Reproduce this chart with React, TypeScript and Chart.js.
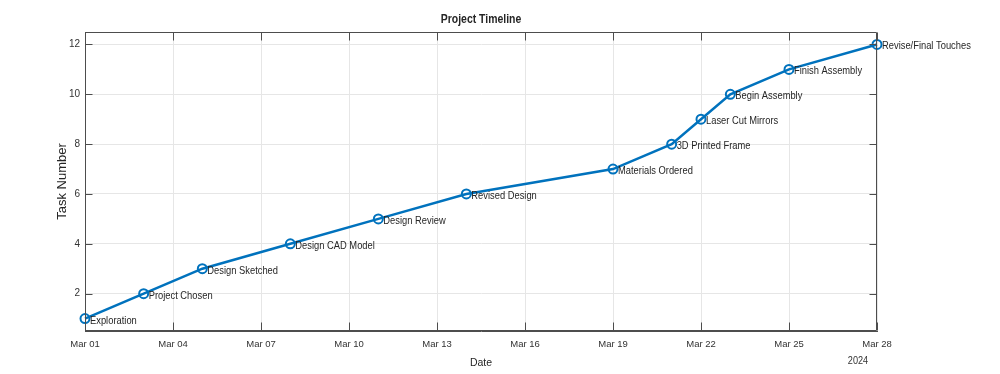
import React, { useEffect, useRef } from "react";
import { Chart, registerables } from "chart.js";

Chart.register(...registerables);

// Day of March 2024 for each task
const taskDays: number[] = [1, 3, 5, 8, 11, 14, 19, 21, 22, 23, 25, 28];
const taskNumbers: number[] = [1, 2, 3, 4, 5, 6, 7, 8, 9, 10, 11, 12];
const taskLabels: string[] = [
  "Exploration",
  "Project Chosen",
  "Design Sketched",
  "Design CAD Model",
  "Design Review",
  "Revised Design",
  "Materials Ordered",
  "3D Printed Frame",
  "Laser Cut Mirrors",
  "Begin Assembly",
  "Finish Assembly",
  "Revise/Final Touches",
];
const xTickDays: number[] = [1, 4, 7, 10, 13, 16, 19, 22, 25, 28];
const yTickValues: number[] = [2, 4, 6, 8, 10, 12];
const yearLabel = "2024";
const monthLabel = "Mar";

const FONT = "'Liberation Sans', Arial, Helvetica, sans-serif";
const AXIS_COLOR = "#4d4d4d";
const TEXT_COLOR = "#262626";
const TICK_COLOR = "#333333";
const LINE_COLOR = "#0072BD";

const pad2 = (n: number) => (n < 10 ? "0" + n : String(n));

function squashedText(ctx: CanvasRenderingContext2D, text: string, x: number, y: number, sx: number) {
  ctx.save();
  ctx.translate(x, y);
  ctx.scale(sx, 1);
  ctx.fillText(text, 0, 0);
  ctx.restore();
}

const decorPlugin = {
  id: "matlabDecor",
  afterDraw(chart: any) {
    const { ctx, chartArea } = chart;
    const xs = chart.scales.x;
    const ys = chart.scales.y;
    const L = Math.round(chartArea.left) + 0.5;
    const R = Math.round(chartArea.right) - 0.5;
    const T = Math.round(chartArea.top) + 0.5;
    const B = Math.round(chartArea.bottom) - 0.5;
    ctx.save();
    // box
    ctx.strokeStyle = AXIS_COLOR;
    ctx.lineWidth = 1;
    ctx.beginPath();
    ctx.moveTo(L, T);
    ctx.lineTo(R, T);
    ctx.lineTo(R, B);
    ctx.lineTo(L, B);
    ctx.closePath();
    ctx.stroke();
    // inward ticks
    ctx.beginPath();
    xTickDays.forEach((d) => {
      const px = Math.round(xs.getPixelForValue(d)) + 0.5;
      ctx.moveTo(px, B);
      ctx.lineTo(px, B - 8);
      ctx.moveTo(px, T);
      ctx.lineTo(px, T + 8);
    });
    yTickValues.forEach((v) => {
      const py = Math.round(ys.getPixelForValue(v)) + 0.5;
      ctx.moveTo(L, py);
      ctx.lineTo(L + 7, py);
      ctx.moveTo(R, py);
      ctx.lineTo(R - 7, py);
    });
    ctx.stroke();
    // point labels
    const meta = chart.getDatasetMeta(0);
    ctx.fillStyle = TEXT_COLOR;
    ctx.font = `11px ${FONT}`;
    ctx.textAlign = "left";
    ctx.textBaseline = "middle";
    meta.data.forEach((el: any, i: number) => {
      squashedText(ctx, taskLabels[i], el.x + 5, el.y + 2, 0.85);
    });
    // title
    ctx.font = `bold 12px ${FONT}`;
    ctx.textAlign = "center";
    squashedText(ctx, "Project Timeline", (chartArea.left + chartArea.right) / 2, 20, 0.87);
    // year label
    ctx.font = `10.5px ${FONT}`;
    ctx.fillStyle = TICK_COLOR;
    squashedText(ctx, yearLabel, xs.getPixelForValue(28) - 19, 361, 0.87);
    ctx.restore();
  },
};

export default function App() {
  const ref = useRef<HTMLCanvasElement | null>(null);
  useEffect(() => {
    if (!ref.current) return;
    const chart = new Chart(ref.current, {
      type: "line",
      data: {
        datasets: [
          {
            data: taskDays.map((d, i) => ({ x: d, y: taskNumbers[i] })),
            borderColor: LINE_COLOR,
            borderWidth: 2.5,
            pointRadius: 4.5,
            pointBorderWidth: 2,
            pointBorderColor: LINE_COLOR,
            pointBackgroundColor: "rgba(0,0,0,0)",
            tension: 0,
            clip: false as any,
          },
        ],
      },
      options: {
        animation: false,
        responsive: false,
        devicePixelRatio: 1,
        layout: { padding: { left: 55, right: 123, top: 32, bottom: 0 } },
        plugins: {
          legend: { display: false },
          tooltip: { enabled: false },
          title: { display: false },
        },
        scales: {
          x: {
            type: "linear",
            min: 1,
            max: 28,
            afterBuildTicks: (s: any) => {
              s.ticks = xTickDays.map((v) => ({ value: v }));
            },
            afterFit: (s: any) => {
              s.height = 43;
            },
            ticks: {
              autoSkip: false,
              maxRotation: 0,
              padding: 8,
              color: TICK_COLOR,
              font: { family: FONT, size: 9.5 },
              callback: (v: any) => `${monthLabel} ${pad2(Number(v))}`,
            },
            grid: { color: "#e6e6e6", drawTicks: false },
            border: { display: true, color: AXIS_COLOR },
            title: {
              display: true,
              text: "Date",
              color: TEXT_COLOR,
              font: { family: FONT, size: 10.5 },
              padding: { top: 0, bottom: 5 },
            },
          },
          y: {
            type: "linear",
            min: 0.5,
            max: 12.5,
            afterBuildTicks: (s: any) => {
              s.ticks = yTickValues.map((v) => ({ value: v }));
            },
            afterFit: (s: any) => {
              s.width = 30;
            },
            ticks: {
              padding: 5,
              color: TICK_COLOR,
              font: { family: FONT, size: 10 },
            },
            grid: { color: "#e6e6e6", drawTicks: false },
            border: { display: true, color: AXIS_COLOR },
            title: {
              display: true,
              text: "Task Number",
              color: TEXT_COLOR,
              font: { family: FONT, size: 13 },
              padding: { top: 0, bottom: 0 },
            },
          },
        },
      },
      plugins: [decorPlugin],
    });
    return () => chart.destroy();
  }, []);
  return (
    <div style={{ position: "absolute", left: 0, top: 0, width: 1000, height: 374, background: "#fff" }}>
      <canvas ref={ref} width={1000} height={374} style={{ display: "block" }} />
    </div>
  );
}
